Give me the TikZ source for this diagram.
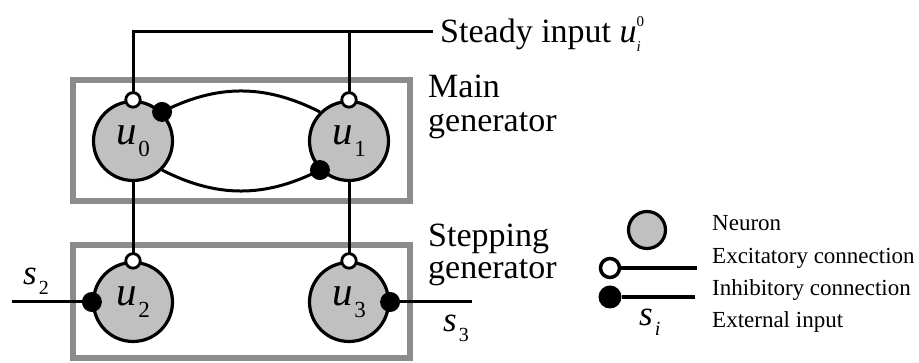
\documentclass[tikz,border=0pt]{standalone}
\usepackage{fontspec}
\setmainfont{Liberation Serif}

\definecolor{cellgray}{RGB}{192,192,192}
\definecolor{boxgray}{RGB}{140,140,140}

% variable with a lowered index
\newcommand\nlab[2]{{\fontsize{41}{41}\selectfont\textit{#1}}\hspace{1.5pt}\raisebox{-12pt}{\fontsize{23}{23}\selectfont #2}}
\newcommand\slab[2]{{\fontsize{35}{35}\selectfont\textit{#1}}\hspace{2pt}\raisebox{-10pt}{\fontsize{20}{20}\selectfont #2}}

\tikzset{
  neuron/.style  = {circle, draw, line width=3.2pt, fill=cellgray,
                    minimum size=79pt, inner sep=0pt},
  excite/.style  = {circle, draw, line width=2.8pt, fill=white,
                    minimum size=14.5pt, inner sep=0pt},
  inhibit/.style = {circle, fill=black, minimum size=20pt, inner sep=0pt},
  wire/.style    = {line width=3pt},
  genbox/.style  = {draw=boxgray, line width=6pt},
  biglabel/.style    = {font=\fontsize{34}{34}\selectfont, inner sep=0pt, anchor=base west},
  legendlabel/.style = {font=\fontsize{23}{23}\selectfont, inner sep=0pt, anchor=base west}
}

\begin{document}
\begin{tikzpicture}[x = 1pt, y = 1pt]

  \useasboundingbox (0, 0) rectangle (919, 363);

  % generator boxes
  \draw[genbox] (73, 162) rectangle (410, 283); % main
  \draw[genbox] (73, 5)   rectangle (410, 118); % stepping

  % neurons
  \node[neuron] (u0) at (133, 222) {\nlab{u}{0}};
  \node[neuron] (u1) at (349, 222) {\nlab{u}{1}};
  \node[neuron] (u2) at (133, 61)  {\nlab{u}{2}};
  \node[neuron] (u3) at (349, 61)  {\nlab{u}{3}};

  % steady input
  \coordinate (steady) at (433, 331);
  \draw[wire] (u0.north) |- (steady);
  \draw[wire] (u1.north) -- (u1.north |- steady);
  \node[biglabel] (steadylbl) at (440, 320)
    {Steady input \textit{u}\raisebox{-9pt}{\fontsize{15}{15}\selectfont
      \begin{tabular}[b]{@{}l@{}}0\\[10pt]\textit{i}\end{tabular}}};

  % mutual inhibition
  \draw[wire] (u0.45) to[bend left=27] (u1.135);
  \draw[wire] (u0.-45) to[bend right=27] (u1.-135);

  % main -> stepping
  \draw[wire] (u0.south) -- (u2.north);
  \draw[wire] (u1.south) -- (u3.north);

  % external inputs
  \coordinate (s2end) at (12, 61);
  \coordinate (s3end) at (472, 61);
  \draw[wire] (s2end) -- (u2.west);
  \draw[wire] (u3.east) -- (s3end);
  \node[inner sep=0pt, anchor=base west] (s2) at (23, 78) {\slab{s}{2}};
  \node[inner sep=0pt, anchor=base west] (s3) at (443, 31) {\slab{s}{3}};

  % connection ends
  \node[excite]  at (u0.north) {};
  \node[excite]  at (u1.north) {};
  \node[excite]  at (u2.north) {};
  \node[excite]  at (u3.north) {};
  \node[inhibit] at (u0.45) {};
  \node[inhibit] at (u1.-135) {};
  \node[inhibit] at (u2.west) {};
  \node[inhibit] at (u3.east) {};

  % box labels
  \node[biglabel] (mainA) at (428, 265) {Main};
  \node[biglabel] (mainB) at (428, 231) {generator};
  \node[biglabel] (stepA) at (428, 116) {Stepping};
  \node[biglabel] (stepB) at (428, 84)  {generator};

  % legend
  \node[neuron, minimum size=37pt] (lgneuron) at (647, 133) {};
  \node[excite, line width=3.5pt, minimum size=19pt] (lgex) at (610, 95) {};
  \node[inhibit, minimum size=23pt] (lginh) at (610, 66) {};
  \coordinate (lgexend)  at (697, 95);
  \coordinate (lginhend) at (695, 66);
  \draw[line width=3.5pt] (lgex) -- (lgexend);
  \draw[line width=3.5pt] (lginh) -- (lginhend);
  \node[inner sep=0pt, anchor=base west] (lgs) at (639, 37) {\slab{s}{\textit{i}}};

  \node[legendlabel] (lgA) at (712, 132) {Neuron};
  \node[legendlabel] (lgB) at (712, 99)  {Excitatory connection};
  \node[legendlabel] (lgC) at (712, 67)  {Inhibitory connection};
  \node[legendlabel] (lgD) at (712, 35)  {External input};
\end{tikzpicture}
\end{document}
